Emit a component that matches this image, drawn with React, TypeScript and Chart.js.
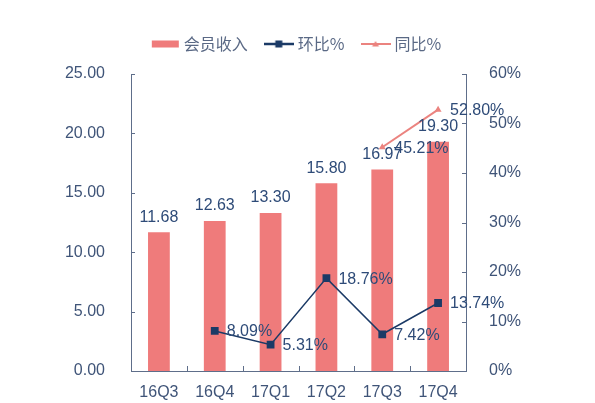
import React, { useEffect, useRef } from 'react';
import { Chart, registerables } from 'chart.js';

Chart.register(...registerables);

const categories = ['16Q3', '16Q4', '17Q1', '17Q2', '17Q3', '17Q4'];
const memberRevenue = [11.68, 12.63, 13.3, 15.8, 16.97, 19.3];
const qoqPct: (number | null)[] = [null, 8.09, 5.31, 18.76, 7.42, 13.74];
const yoyPct: (number | null)[] = [null, null, null, null, 45.21, 52.8];
const seriesNames = ['会员收入', '环比%', '同比%'];
const leftAxis = { min: 0, max: 25, step: 5 };
const rightAxis = { min: 0, max: 60, step: 10 };

const BAR = '#EF7B7B';
const NAVY = '#1B3A66';
const PINK = '#EB837F';
const AXIS = '#5E6E8A';
const TICK_TXT = '#3F5478';
const LABEL_TXT = '#2E4B78';
const LEGEND_TXT = '#5A6985';
const FONT = '"Liberation Sans", Arial, sans-serif';

function makeSymbol(kind: 'bar' | 'qoq' | 'yoy'): HTMLCanvasElement {
  const c = document.createElement('canvas');
  c.width = 30;
  c.height = 10;
  const g = c.getContext('2d')!;
  if (kind === 'bar') {
    g.fillStyle = BAR;
    g.fillRect(2, 1.5, 27, 7);
  } else if (kind === 'qoq') {
    g.strokeStyle = NAVY;
    g.lineWidth = 2.5;
    g.beginPath();
    g.moveTo(0, 5);
    g.lineTo(30, 5);
    g.stroke();
    g.fillStyle = NAVY;
    g.fillRect(11.5, 1.5, 7, 7);
  } else {
    g.strokeStyle = PINK;
    g.lineWidth = 2;
    g.beginPath();
    g.moveTo(0, 5);
    g.lineTo(30, 5);
    g.stroke();
    g.fillStyle = PINK;
    g.beginPath();
    g.moveTo(15, 2);
    g.lineTo(18.5, 7.5);
    g.lineTo(11.5, 7.5);
    g.closePath();
    g.fill();
  }
  return c;
}

const legendMargin = {
  id: 'legendMargin',
  beforeInit(chart: any) {
    const legend = chart.legend;
    if (!legend) return;
    const orig = legend.fit;
    legend.fit = function () {
      orig.call(this);
      this.height += 12;
    };
  },
};

const decor = {
  id: 'decor',
  afterDatasetsDraw(chart: any) {
    const ctx = chart.ctx as CanvasRenderingContext2D;
    const area = chart.chartArea;
    const { x, y, y1 } = chart.scales;
    ctx.save();
    ctx.strokeStyle = AXIS;
    ctx.lineWidth = 1;
    y.ticks.forEach((_t: any, i: number) => {
      const py = Math.round(y.getPixelForTick(i)) + 0.5;
      ctx.beginPath();
      ctx.moveTo(area.left, py);
      ctx.lineTo(area.left + 4, py);
      ctx.stroke();
    });
    y1.ticks.forEach((_t: any, i: number) => {
      const py = Math.round(y1.getPixelForTick(i)) + 0.5;
      ctx.beginPath();
      ctx.moveTo(area.right, py);
      ctx.lineTo(area.right - 4, py);
      ctx.stroke();
    });
    for (let i = 1; i < categories.length; i++) {
      const px = Math.round((x.getPixelForValue(i - 1) + x.getPixelForValue(i)) / 2) + 0.5;
      ctx.beginPath();
      ctx.moveTo(px, area.bottom);
      ctx.lineTo(px, area.bottom - 5);
      ctx.stroke();
    }

    ctx.font = `16px ${FONT}`;
    ctx.fillStyle = LABEL_TXT;
    const barMeta = chart.getDatasetMeta(0);
    barMeta.data.forEach((el: any, i: number) => {
      ctx.textAlign = 'center';
      ctx.textBaseline = 'middle';
      ctx.fillText(memberRevenue[i].toFixed(2), el.x, el.y - 15);
    });
    [
      [1, qoqPct],
      [2, yoyPct],
    ].forEach(([di, vals]: any) => {
      const meta = chart.getDatasetMeta(di);
      meta.data.forEach((el: any, i: number) => {
        const v = vals[i];
        if (v == null) return;
        ctx.textAlign = 'left';
        ctx.textBaseline = 'middle';
        ctx.fillText(v.toFixed(2) + '%', el.x + 12, el.y + 1);
      });
    });
    ctx.restore();
  },
};

export default function App() {
  const ref = useRef<HTMLCanvasElement>(null);

  useEffect(() => {
    const symbols = [makeSymbol('bar'), makeSymbol('qoq'), makeSymbol('yoy')];
    const chart = new Chart(ref.current!, {
      type: 'bar',
      data: {
        labels: categories,
        datasets: [
          {
            type: 'bar',
            label: seriesNames[0],
            data: memberRevenue,
            backgroundColor: BAR,
            borderWidth: 0,
            barPercentage: 0.39,
            categoryPercentage: 1,
            yAxisID: 'y',
            order: 3,
          },
          {
            type: 'line',
            label: seriesNames[1],
            data: qoqPct,
            borderColor: NAVY,
            backgroundColor: NAVY,
            borderWidth: 1.5,
            pointStyle: 'rect',
            pointRadius: 5.5,
            pointBorderWidth: 0,
            pointBackgroundColor: NAVY,
            yAxisID: 'y1',
            order: 1,
          },
          {
            type: 'line',
            label: seriesNames[2],
            data: yoyPct,
            borderColor: PINK,
            backgroundColor: PINK,
            borderWidth: 2,
            pointStyle: 'triangle',
            pointRadius: 4,
            pointBorderWidth: 0,
            pointBackgroundColor: PINK,
            yAxisID: 'y1',
            order: 2,
          },
        ] as any,
      },
      options: {
        animation: false,
        responsive: true,
        maintainAspectRatio: false,
        layout: { padding: { top: 16, left: 0, right: 0, bottom: 0 } },
        plugins: {
          tooltip: { enabled: false },
          legend: {
            display: true,
            position: 'top',
            labels: {
              usePointStyle: true,
              pointStyleWidth: 22,
              padding: 20,
              color: LEGEND_TXT,
              font: { size: 16, family: '"Noto Sans CJK SC", ' + FONT },
              generateLabels: () =>
                seriesNames.map((name, i) => ({
                  text: name,
                  pointStyle: symbols[i] as any,
                  fillStyle: 'transparent',
                  strokeStyle: 'transparent',
                  lineWidth: 0,
                  hidden: false,
                  datasetIndex: i,
                  fontColor: LEGEND_TXT,
                })),
            },
          },
        },
        scales: {
          x: {
            offset: true,
            grid: { display: false, offset: true },
            border: { display: true, color: AXIS, width: 1 },
            ticks: { color: TICK_TXT, font: { size: 16, family: FONT }, padding: 4, maxRotation: 0 },
            afterFit: (s: any) => {
              s.height = 32;
            },
          },
          y: {
            position: 'left',
            min: leftAxis.min,
            max: leftAxis.max,
            grid: { display: false },
            border: { display: true, color: AXIS, width: 1 },
            ticks: {
              stepSize: leftAxis.step,
              color: TICK_TXT,
              font: { size: 16, family: FONT },
              padding: 18,
              callback: (v: any) => Number(v).toFixed(2),
            },
            afterFit: (s: any) => {
              s.width = 131;
            },
          },
          y1: {
            position: 'right',
            min: rightAxis.min,
            max: rightAxis.max,
            grid: { display: false },
            border: { display: true, color: AXIS, width: 1 },
            ticks: {
              stepSize: rightAxis.step,
              color: TICK_TXT,
              font: { size: 16, family: FONT },
              padding: 15,
              callback: (v: any) => v + '%',
            },
            afterFit: (s: any) => {
              s.width = 129;
            },
          },
        },
      },
      plugins: [legendMargin, decor],
    } as any);
    return () => chart.destroy();
  }, []);

  return (
    <div style={{ position: 'fixed', left: 0, top: 0, width: 595, height: 403, background: '#fff' }}>
      <canvas ref={ref} />
    </div>
  );
}
